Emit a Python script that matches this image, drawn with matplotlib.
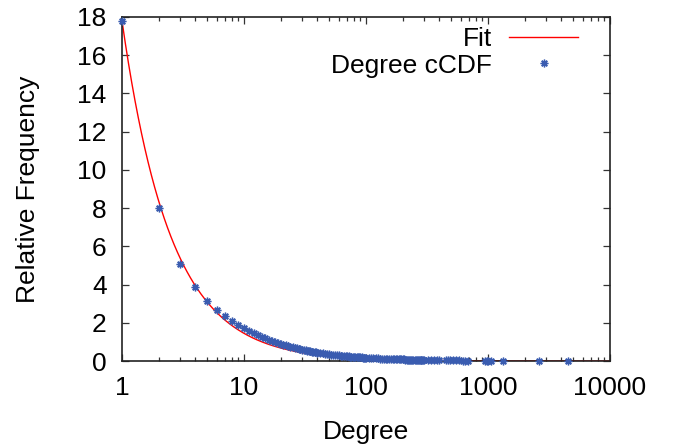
import numpy as np
import matplotlib
matplotlib.use("Agg")
import matplotlib.pyplot as plt
from matplotlib.ticker import LogLocator, FixedLocator, NullFormatter, FixedFormatter

# ---- data ----
degree = [1, 2, 3, 4, 5, 6, 7, 8, 9, 10,
          11, 12, 13, 14, 15, 16, 17, 18, 19, 20,
          21, 22, 23, 24, 25, 26, 27, 28, 29, 30,
          31, 32, 33, 34, 35, 36, 37, 38, 39, 40,
          42, 44, 46, 48, 50, 52, 54, 56, 58, 60,
          62, 64, 66, 68, 70, 72, 74, 76, 78, 80,
          82, 84, 86, 88, 90, 92, 94, 96, 98, 100,
          105, 110, 115, 120, 125, 130, 135, 140, 145, 150,
          155, 160, 165, 170, 175, 180, 185, 190, 195, 200,
          205, 210, 215, 220, 225, 230, 235, 240, 245, 250,
          255, 260, 265, 270, 275, 280, 285, 290, 295, 300,
          320, 340, 360, 380, 400, 450, 470, 490, 520, 550,
          580, 620, 650, 680, 940, 980, 1000, 1050, 1330, 2600, 4500]
ccdf = [17.8, 8.02, 5.08, 3.89, 3.16, 2.66, 2.33, 2.08, 1.89, 1.72,
        1.58, 1.46, 1.36, 1.27, 1.19, 1.12, 1.06, 1.00, 0.95, 0.90,
        0.86, 0.82, 0.78, 0.75, 0.72, 0.69, 0.66, 0.64, 0.61, 0.59,
        0.57, 0.55, 0.53, 0.52, 0.50, 0.49, 0.47, 0.46, 0.45, 0.44,
        0.42, 0.40, 0.38, 0.365, 0.35, 0.335, 0.325, 0.31, 0.30, 0.29,
        0.28, 0.27, 0.262, 0.255, 0.247, 0.24, 0.233, 0.226, 0.22, 0.214,
        0.208, 0.203, 0.198, 0.193, 0.188, 0.184, 0.18, 0.176, 0.172, 0.168,
        0.16, 0.152, 0.145, 0.139, 0.133, 0.128, 0.123, 0.118, 0.114, 0.11,
        0.106, 0.103, 0.10, 0.097, 0.094, 0.091, 0.088, 0.086, 0.083, 0.081,
        0.079, 0.077, 0.075, 0.073, 0.071, 0.07, 0.068, 0.066, 0.065, 0.063,
        0.062, 0.061, 0.059, 0.058, 0.057, 0.056, 0.055, 0.054, 0.053, 0.052,
        0.05, 0.047, 0.045, 0.043, 0.04, 0.037, 0.035, 0.033, 0.03, 0.029,
        0.027, 0.025, 0.024, 0.022, 0.018, 0.017, 0.016, 0.015, 0.012, 0.006, 0.004]

# fitted power law  f(x) = FIT_A * x^(-FIT_B)
FIT_A = 17.8
FIT_B = 1.09

x_ticks = [1, 10, 100, 1000, 10000]
x_tick_labels = ["1", "10", "100", "1000", "10000"]
y_ticks = [0, 2, 4, 6, 8, 10, 12, 14, 16, 18]

plt.rcParams['font.family'] = ['Liberation Sans', 'DejaVu Sans']
FS = 19

fig = plt.figure(figsize=(6.75, 4.48), dpi=100)
ax = fig.add_axes([122/675, (448-361)/448, 488/675, 344/448])

fit_x = np.logspace(0, 4, 600)
fit_y = FIT_A * fit_x ** (-FIT_B)
ax.plot(fit_x, fit_y, color='#ff0000', lw=1.0, label='Fit', zorder=2)

pts, = ax.plot(degree, ccdf, linestyle='none', marker=(8, 2, 0), markersize=5.5,
               markeredgewidth=1.0, color='#3a5cb0', label='Degree cCDF',
               clip_on=False, zorder=3)

ax.set_xscale('log')
ax.set_xlim(1, 10000)
ax.set_ylim(0, 18)
ax.xaxis.set_major_locator(FixedLocator(x_ticks))
ax.xaxis.set_major_formatter(FixedFormatter(x_tick_labels))
ax.xaxis.set_minor_locator(LogLocator(base=10, subs=np.arange(2, 10)))
ax.xaxis.set_minor_formatter(NullFormatter())
ax.set_yticks(y_ticks)
ax.set_yticklabels([str(v) for v in y_ticks])

ax.tick_params(which='both', direction='in', top=True, right=True,
               labelsize=FS, width=0.9, color='#333333')
ax.tick_params(which='major', length=5, pad=11)
ax.tick_params(which='minor', length=3)
for s in ax.spines.values():
    s.set_linewidth(1.2)
    s.set_color('#222222')

ax.set_xlabel('Degree', fontsize=FS, labelpad=14)
ax.set_ylabel('Relative Frequency', fontsize=FS, labelpad=27)

leg = ax.legend(loc='upper right', bbox_to_anchor=((578 - 122) / 488, (361 - 27) / 344),
                frameon=False, markerfirst=False,
                fontsize=FS, handlelength=2.6, handletextpad=0.65,
                labelspacing=0.1, borderaxespad=0.0, borderpad=0.0,
                numpoints=1)
for t in leg.get_texts():
    t.set_ha('right')

fig.savefig('out.png', dpi=100)
